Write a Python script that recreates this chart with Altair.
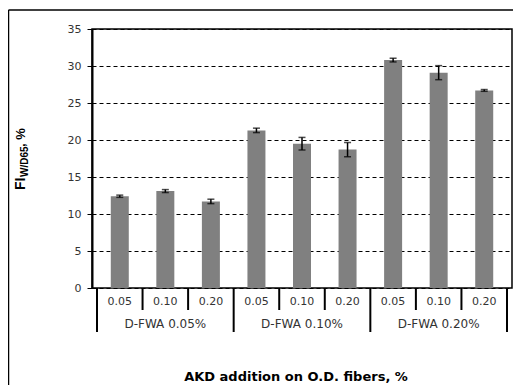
import altair as alt
import pandas as pd

# ---- data ----
groups = ["D-FWA 0.05%", "D-FWA 0.10%", "D-FWA 0.20%"]
akd_levels = ["0.05", "0.10", "0.20"]
values = [12.4, 13.1, 11.7, 21.3, 19.5, 18.7, 30.8, 29.1, 26.7]
errors = [0.15, 0.20, 0.30, 0.30, 0.85, 0.95, 0.25, 0.95, 0.12]
y_ticks = [0, 5, 10, 15, 20, 25, 30, 35]
x_title = "AKD addition on O.D. fibers, %"
y_title_parts = ["FI", "W/D65", ", %"]

W, H = 420, 259
FONT = "DejaVu Sans"
TFONT = "Liberation Sans"

rows = []
for gi, g in enumerate(groups):
    for ai, a in enumerate(akd_levels):
        i = gi * 3 + ai
        rows.append({"pos": i + 0.5, "akd": a, "group": g, "value": values[i],
                     "lo": values[i] - errors[i], "hi": values[i] + errors[i]})
df = pd.DataFrame(rows)

grp_df = pd.DataFrame({"group": groups, "pos": [1.5, 4.5, 7.5]})
short_df = pd.DataFrame({"b": [1, 2, 4, 5, 7, 8]})
long_df = pd.DataFrame({"b": [0, 3, 6, 9]})

xs = alt.Scale(domain=[0, 9], nice=False, zero=False)
ys = alt.Scale(domain=[0, 35], nice=False)

y_axis = alt.Axis(values=y_ticks, labelOverlap=False, title=None,
                  grid=True, gridColor="#000000",
                  gridDash=[4, 3], gridWidth=1, domainColor="#000000",
                  domainWidth=2, tickColor="#000000", tickSize=5, tickWidth=1,
                  labelPadding=6, labelFontSize=11, labelColor="#333333",
                  labelFont=FONT)

base = alt.Chart(df)

bars = base.mark_bar(size=18, color="#808080").encode(
    x=alt.X("pos:Q", scale=xs, axis=None),
    y=alt.Y("value:Q", scale=ys, axis=y_axis),
)

err = base.mark_rule(color="#000000", strokeWidth=1.5).encode(
    x=alt.X("pos:Q", scale=xs, axis=None), y=alt.Y("lo:Q", scale=ys, axis=y_axis), y2="hi:Q")
cap_lo = base.mark_tick(orient="horizontal", size=7, thickness=1.5, color="#000000").encode(
    x=alt.X("pos:Q", scale=xs, axis=None), y=alt.Y("lo:Q", scale=ys, axis=y_axis))
cap_hi = base.mark_tick(orient="horizontal", size=7, thickness=1.5, color="#000000").encode(
    x=alt.X("pos:Q", scale=xs, axis=None), y=alt.Y("hi:Q", scale=ys, axis=y_axis))

short_sep = alt.Chart(short_df).mark_rule(color="#000000", strokeWidth=2).encode(
    x=alt.X("b:Q", scale=xs, axis=None), y=alt.value(H), y2=alt.value(H + 22))
long_sep = alt.Chart(long_df).mark_rule(color="#000000", strokeWidth=2).encode(
    x=alt.X("b:Q", scale=xs, axis=None), y=alt.value(H), y2=alt.value(H + 44))

sub_lbl = base.mark_text(fontSize=11, font=FONT, color="#333333", baseline="middle").encode(
    x=alt.X("pos:Q", scale=xs, axis=None), y=alt.value(H + 14), text="akd:N")
grp_lbl = alt.Chart(grp_df).mark_text(fontSize=12, font=FONT, color="#333333",
                                      baseline="middle").encode(
    x=alt.X("pos:Q", scale=xs, axis=None), y=alt.value(H + 36), text="group:N")

xt = alt.Chart(pd.DataFrame({"t": [x_title]})).mark_text(
    fontSize=13, font=FONT, fontWeight="bold", color="#000000", baseline="middle").encode(
    x=alt.value(W / 2 - 6), y=alt.value(348), text="t:N")

yt_df = pd.DataFrame({"t": y_title_parts})
yt_main = alt.Chart(yt_df.iloc[[0]]).mark_text(
    angle=270, align="left", baseline="alphabetic", fontSize=14, font=TFONT,
    fontWeight="bold", color="#000000").encode(
    x=alt.value(-67), y=alt.value(161), text="t:N")
yt_sub = alt.Chart(yt_df.iloc[[1]]).mark_text(
    angle=270, align="left", baseline="alphabetic", fontSize=10, font=TFONT,
    fontWeight="bold", color="#000000").encode(
    x=alt.value(-64), y=alt.value(148), text="t:N")
yt_end = alt.Chart(yt_df.iloc[[2]]).mark_text(
    angle=270, align="left", baseline="alphabetic", fontSize=13, font=TFONT,
    fontWeight="bold", color="#000000").encode(
    x=alt.value(-67), y=alt.value(118), text="t:N")

border_top = alt.Chart(pd.DataFrame({"a": [0]})).mark_rule(color="#000000", strokeWidth=1.5).encode(
    x=alt.value(-83.5), x2=alt.value(W + 2), y=alt.value(-19))
border_left = alt.Chart(pd.DataFrame({"a": [0]})).mark_rule(color="#000000", strokeWidth=1.5).encode(
    x=alt.value(-83.5), y=alt.value(-19), y2=alt.value(360))

chart = alt.layer(
    bars, err, cap_lo, cap_hi, short_sep, long_sep, sub_lbl, grp_lbl, xt,
    yt_main, yt_sub, yt_end, border_top, border_left
).properties(
    width=W, height=H,
    padding={"left": 84, "top": 21, "right": 1, "bottom": 97},
    autosize=alt.AutoSizeParams(type="none"),
    background="#ffffff",
).configure_view(stroke="#000000", strokeWidth=1.5)

chart.save("out.html", embed_options={"renderer": "svg", "actions": False})
